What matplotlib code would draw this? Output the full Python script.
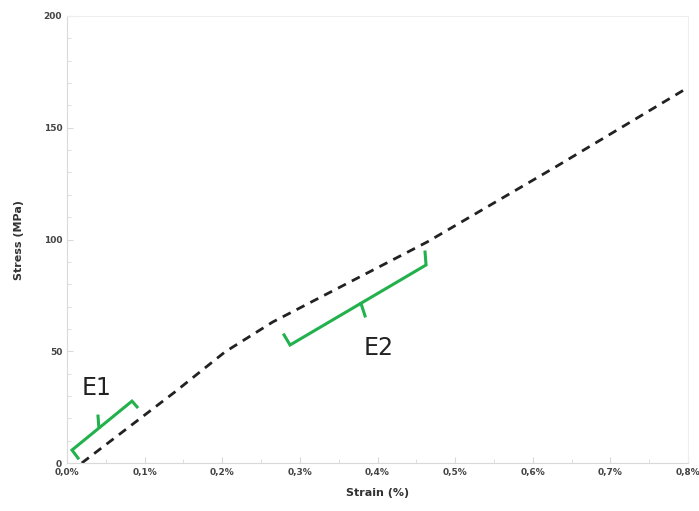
import matplotlib.pyplot as plt
from matplotlib.ticker import FuncFormatter, MultipleLocator

# stress-strain curve
strain = [0.019, 0.139, 0.2035, 0.265, 0.464, 0.629, 0.8]
stress = [0.0, 31.8, 49.7, 63.1, 98.9, 132.4, 168.0]

# bracket annotations (strain %, stress MPa)
e1_x = [0.0142, 0.0064, 0.0837, 0.0902]
e1_y = [2.2, 5.8, 27.7, 25.1]
e1_stub_x = [0.0410, 0.0399]
e1_stub_y = [15.9, 21.0]
e2_x = [0.2796, 0.2873, 0.4625, 0.4612]
e2_y = [57.3, 52.8, 88.6, 94.4]
e2_stub_x = [0.3787, 0.3839]
e2_stub_y = [71.4, 65.8]

grey = '#d9d9d9'
green = '#22b14c'

fig = plt.figure(figsize=(6.99, 5.11), dpi=100)
ax = fig.add_axes([0.0959, 0.0939, 0.8884, 0.8748])

ax.plot(strain, stress, color='#222222', linestyle=(0, (3.2, 2.4)), linewidth=2.0)

ax.plot(e1_x, e1_y, color=green, linewidth=2.2, solid_joinstyle='miter')
ax.plot(e1_stub_x, e1_stub_y, color=green, linewidth=2.2)
ax.plot(e2_x, e2_y, color=green, linewidth=2.2, solid_joinstyle='miter')
ax.plot(e2_stub_x, e2_stub_y, color=green, linewidth=2.2)
ax.text(0.038, 33.5, 'E1', fontsize=17, color='#222222', ha='center', va='center')
ax.text(0.401, 51.5, 'E2', fontsize=17, color='#222222', ha='center', va='center')

ax.set_xlim(0, 0.8)
ax.set_ylim(0, 200)
ax.xaxis.set_major_locator(MultipleLocator(0.1))
ax.xaxis.set_minor_locator(MultipleLocator(0.05))
ax.yaxis.set_major_locator(MultipleLocator(50))
ax.yaxis.set_minor_locator(MultipleLocator(10))
ax.xaxis.set_major_formatter(FuncFormatter(lambda v, p: f'{v:.1f}%'.replace('.', ',')))
ax.tick_params(which='both', direction='in', color=grey, labelsize=6.5, labelcolor='#444444')
ax.tick_params(which='major', length=4)
ax.tick_params(which='minor', length=3)
for lab in ax.get_xticklabels() + ax.get_yticklabels():
    lab.set_fontweight('bold')
for side in ['left', 'bottom', 'right', 'top']:
    ax.spines[side].set_color(grey)
ax.spines['right'].set_color('#eeeeee')
ax.spines['top'].set_color('#eeeeee')

ax.set_xlabel('Strain (%)', fontsize=8, fontweight='bold', color='#333333', labelpad=8)
ax.set_ylabel('Stress (MPa)', fontsize=8, fontweight='bold', color='#333333', labelpad=14)

plt.savefig('out.png', dpi=100)
